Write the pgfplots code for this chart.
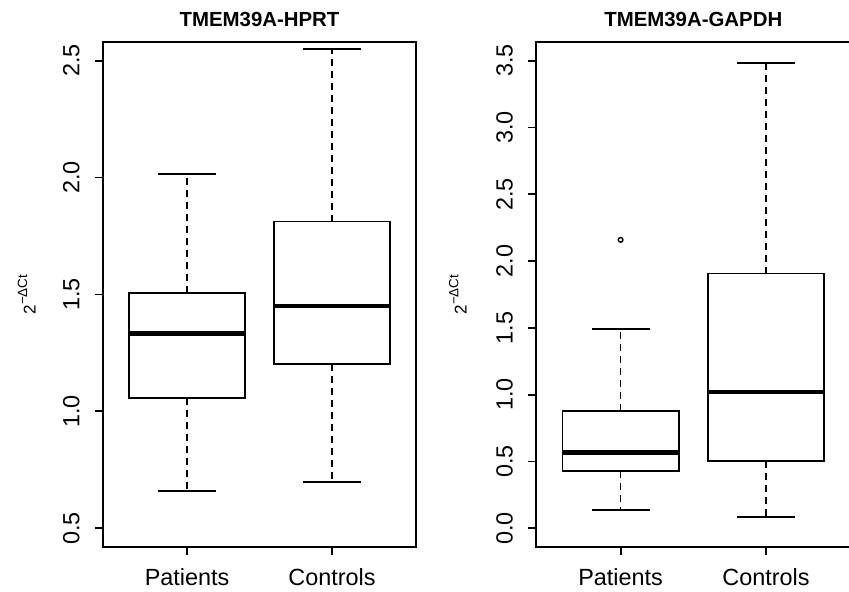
\documentclass[border=0pt]{standalone}
\usepackage{fontspec}
\setmainfont{Liberation Sans}
\usepackage{pgfplots}
\pgfplotsset{compat=1.18}
\usepgfplotslibrary{statistics}
\begin{document}
\begin{tikzpicture}
\pgfplotsset{
 rbox/.style={
   scale only axis, height=252.5pt,
   xmin=0.42, xmax=2.58, xtick={1,2}, xticklabels={Patients,Controls},
   tick pos=left, tick align=outside, major tick length=4pt,
   axis line style={line width=0.9pt, black},
   every tick/.style={black, line width=0.9pt},
   tick label style={font=\fontsize{11.7}{14}\selectfont},
   /pgf/number format/assume math mode=true,
   y tick label style={/pgf/number format/fixed, /pgf/number format/fixed zerofill, /pgf/number format/precision=1},
   yticklabel style={rotate=90, anchor=south, inner xsep=0pt, inner ysep=7.5pt},
   xticklabel style={anchor=base, yshift=-15.5pt},
   title style={at={(0.5,1)}, anchor=base, yshift=1.8pt, font=\bfseries\fontsize{10.2}{12}\selectfont},
   ylabel={2\raisebox{4.2pt}{\fontsize{6.7}{8}\selectfont −ΔCt}},
   ylabel style={font=\fontsize{8.5}{10}\selectfont, anchor=center},
   boxplot/draw direction=y,
   boxplot/every box/.style={draw=black, fill=white, line width=0.9pt},
   boxplot/every median/.style={draw=black, line width=2.2pt},
   boxplot/box extend=0.8, boxplot/whisker extend=0.4,
   boxplot/draw/lower whisker/.code={
     \draw[black, line width=0.8pt, dash pattern=on 3.5pt off 2.5pt]
       (boxplot box cs:\pgfplotsboxplotvalue{lower quartile},0.5) --
       (boxplot box cs:\pgfplotsboxplotvalue{lower whisker},0.5);
     \draw[black, line width=0.9pt]
       (boxplot whisker cs:\pgfplotsboxplotvalue{lower whisker},0) --
       (boxplot whisker cs:\pgfplotsboxplotvalue{lower whisker},1);
   },
   boxplot/draw/upper whisker/.code={
     \draw[black, line width=0.8pt, dash pattern=on 3.5pt off 2.5pt]
       (boxplot box cs:\pgfplotsboxplotvalue{upper quartile},0.5) --
       (boxplot box cs:\pgfplotsboxplotvalue{upper whisker},0.5);
     \draw[black, line width=0.9pt]
       (boxplot whisker cs:\pgfplotsboxplotvalue{upper whisker},0) --
       (boxplot whisker cs:\pgfplotsboxplotvalue{upper whisker},1);
   },
 }
}
\useasboundingbox (0,0) rectangle (424.5pt,296pt);
\begin{axis}[rbox, at={(51.5pt,22.5pt)}, anchor=south west, width=156.5pt,
  ymin=0.42, ymax=2.58, ytick={0.5,1.0,1.5,2.0,2.5},
  title={TMEM39A-HPRT},
  ylabel style={at={(axis description cs:-0.244,0.5)}}]
\addplot[black, boxplot prepared={draw position=1, lower whisker=0.660, lower quartile=1.057,
  median=1.333, upper quartile=1.507, upper whisker=2.015}] coordinates {};
\addplot[black, boxplot prepared={draw position=2, lower whisker=0.699, lower quartile=1.202,
  median=1.450, upper quartile=1.812, upper whisker=2.551}] coordinates {};
\end{axis}
\begin{axis}[rbox, at={(268.15pt,22.5pt)}, anchor=south west, width=157pt,
  ymin=-0.14, ymax=3.64, ytick={0,0.5,1.0,1.5,2.0,2.5,3.0,3.5},
  title={TMEM39A-GAPDH},
  ylabel style={at={(axis description cs:-0.25,0.5)}}]
\addplot[black, mark=o, mark size=1.15pt, mark options={solid, line width=0.7pt},
  boxplot prepared={draw position=1, lower whisker=0.137, lower quartile=0.426,
  median=0.566, upper quartile=0.878, upper whisker=1.493}] coordinates {(0,2.159)};
\addplot[black, boxplot prepared={draw position=2, lower whisker=0.082, lower quartile=0.504,
  median=1.018, upper quartile=1.907, upper whisker=3.485}] coordinates {};
\end{axis}
\end{tikzpicture}
\end{document}
